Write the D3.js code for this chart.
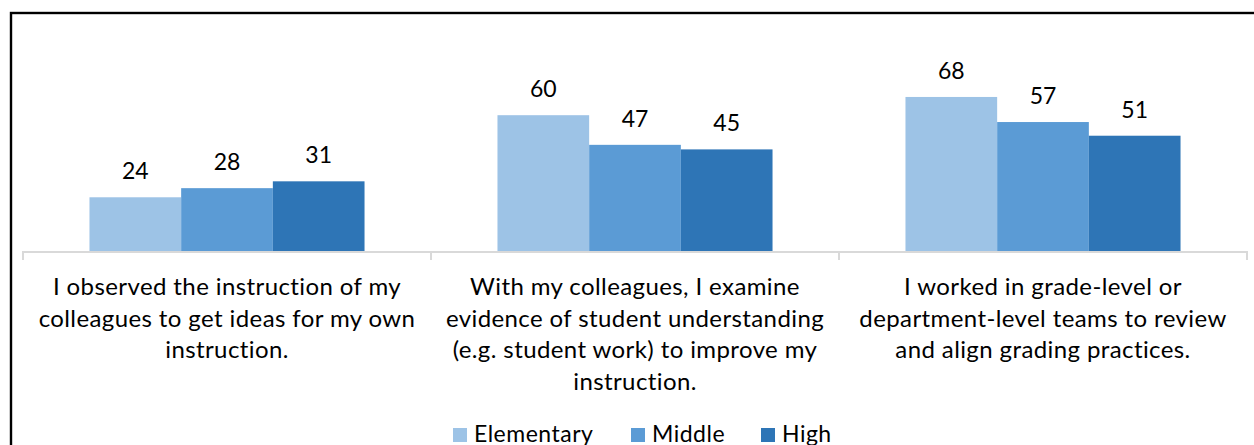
<!DOCTYPE html>
<html>
<head>
<meta charset="utf-8">
<script src="https://cdn.jsdelivr.net/npm/d3@7"></script>
<style>
  html, body { margin: 0; padding: 0; background: #fff; overflow: hidden; }
  svg { display: block; }
  text { font-family: "Lato", "Open Sans", sans-serif; fill: #000; font-variant-ligatures: none; }
</style>
</head>
<body>
<svg id="chart" width="1254" height="445"></svg>
<script>
// Share of teachers reporting each collaboration practice, by school level
const categories = [
  ["I observed the instruction of my", "colleagues to get ideas for my own", "instruction."],
  ["With my colleagues, I examine", "evidence of student understanding", "(e.g. student work) to improve my", "instruction."],
  ["I worked in grade-level or", "department-level teams to review", "and align grading practices."]
];
const seriesNames = ["Elementary", "Middle", "High"];
const elementary = [24, 60, 68];
const middle = [28, 47, 57];
const high = [31, 45, 51];
const seriesColors = ["#9DC3E6", "#5B9BD5", "#2E75B6"];

const seriesValues = [elementary, middle, high];
const svg = d3.select("#chart");

// Outer frame (extends past the right and bottom edges)
svg.append("rect")
  .attr("x", 11).attr("y", 13)
  .attr("width", 1300).attr("height", 500)
  .attr("fill", "none").attr("stroke", "#000").attr("stroke-width", 2.4);

const baseY = 252;
const x0 = d3.scaleBand().domain(d3.range(categories.length)).range([23, 1247]).padding(0);
const x1 = d3.scaleBand().domain(seriesNames).range([0, x0.bandwidth()])
  .paddingInner(0).paddingOuter(0.725);
const y = d3.scaleLinear().domain([0, 100]).range([baseY, 24]);

// Bars
const groups = svg.append("g").selectAll("g")
  .data(categories.map((c, i) => i))
  .join("g")
  .attr("transform", i => `translate(${x0(i)},0)`);

groups.selectAll("rect")
  .data(i => seriesNames.map((s, k) => ({ s, v: seriesValues[k][i], c: seriesColors[k] })))
  .join("rect")
  .attr("x", d => x1(d.s))
  .attr("y", d => y(d.v))
  .attr("width", x1.bandwidth())
  .attr("height", d => baseY - y(d.v))
  .attr("fill", d => d.c);

// Value labels
groups.selectAll("text.val")
  .data(i => seriesNames.map((s, k) => ({ s, v: seriesValues[k][i] })))
  .join("text")
  .attr("class", "val")
  .attr("x", d => x1(d.s) + x1.bandwidth() / 2)
  .attr("y", d => y(d.v) - 18)
  .attr("text-anchor", "middle")
  .attr("font-size", 23)
  .text(d => d.v);

// Category axis line with boundary ticks
const axisG = svg.append("g").attr("transform", `translate(0,${baseY})`);
axisG.append("line")
  .attr("x1", x0.range()[0]).attr("x2", x0.range()[1])
  .attr("stroke", "#d9d9d9").attr("stroke-width", 2);
const bounds = d3.range(categories.length + 1).map(i => i < categories.length ? x0(i) : x0(i - 1) + x0.bandwidth());
axisG.selectAll("line.bound").data(bounds).join("line")
  .attr("class", "bound")
  .attr("x1", d => d).attr("x2", d => d)
  .attr("y1", -1).attr("y2", 8)
  .attr("stroke", "#d9d9d9").attr("stroke-width", 2);

// Category labels
const catText = svg.append("g").selectAll("text")
  .data(categories)
  .join("text")
  .attr("x", (d, i) => x0(i) + x0.bandwidth() / 2)
  .attr("y", 295)
  .attr("text-anchor", "middle")
  .attr("font-size", 24)
  .attr("letter-spacing", 0.4);
catText.selectAll("tspan")
  .data(d => d)
  .join("tspan")
  .attr("x", function () { return d3.select(this.parentNode).attr("x"); })
  .attr("dy", (d, j) => j === 0 ? 0 : 31.7)
  .text(d => d);

// Legend
const legendX = [453, 631, 761];
const legend = svg.append("g").selectAll("g")
  .data(seriesNames)
  .join("g")
  .attr("transform", (d, i) => `translate(${legendX[i]},428)`);
legend.append("rect")
  .attr("width", 14).attr("height", 14)
  .attr("fill", (d, i) => seriesColors[i]);
legend.append("text")
  .attr("x", 21).attr("y", 13.5)
  .attr("font-size", 23)
  .attr("letter-spacing", 0.5)
  .text(d => d);
</script>
</body>
</html>
